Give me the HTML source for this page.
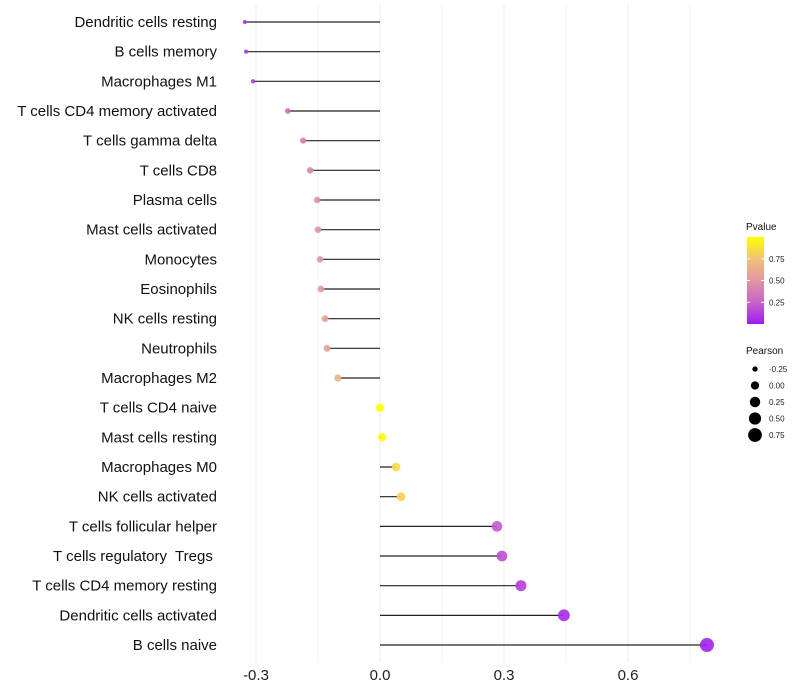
<!DOCTYPE html>
<html><head><meta charset="utf-8"><style>
body{margin:0;background:#fff;font-family:"Liberation Sans",sans-serif;}
svg{display:block}
</style></head><body>
<svg id="chart" width="800" height="700" xmlns="http://www.w3.org/2000/svg"></svg>
<script>
const categories=["Dendritic cells resting","B cells memory","Macrophages M1","T cells CD4 memory activated","T cells gamma delta","T cells CD8","Plasma cells","Mast cells activated","Monocytes","Eosinophils","NK cells resting","Neutrophils","Macrophages M2","T cells CD4 naive","Mast cells resting","Macrophages M0","NK cells activated","T cells follicular helper","T cells regulatory\u00a0 Tregs\u00a0","T cells CD4 memory resting","Dendritic cells activated","B cells naive"];
const pearson=[-0.327,-0.324,-0.307,-0.223,-0.186,-0.169,-0.152,-0.150,-0.145,-0.143,-0.133,-0.128,-0.102,0.0,0.005,0.039,0.051,0.283,0.295,0.341,0.445,0.791];
const pvalue=[0.08,0.09,0.12,0.3,0.4,0.45,0.5,0.5,0.53,0.54,0.57,0.58,0.68,1.0,0.98,0.86,0.83,0.22,0.19,0.13,0.05,0.02];
const xTicks=[-0.3,0.0,0.3,0.6];
const xTickLabels=["-0.3","0.0","0.3","0.6"];
const pTicks=[0.25,0.5,0.75];
const sizeTicks=[-0.25,0,0.25,0.5,0.75];

const NS="http://www.w3.org/2000/svg";
const svg=document.getElementById('chart');
function el(t,a,p){const e=document.createElementNS(NS,t);for(const k in a)e.setAttribute(k,a[k]);(p||svg).appendChild(e);return e;}
const x=v=>380+v*413.33;
const y=i=>22+i*29.667;
const r=v=>Math.sqrt(Math.max(1,4+40*(v+0.33)));
const stops=[[0,[160,26,240]],[0.25,[200,100,200]],[0.5,[224,150,160]],[0.75,[243,192,120]],[1,[255,255,0]]];
function col(p){for(let i=0;i<stops.length-1;i++){const a=stops[i],b=stops[i+1];if(p<=b[0]){const t=(p-a[0])/(b[0]-a[0]);const c=a[1].map((v,k)=>Math.round(v+(b[1][k]-v)*t));return `rgb(${c})`;}}return 'rgb(255,255,0)';}

const grid=el('g',{});


for(let v=-0.3;v<=0.76;v+=0.15){el('line',{x1:x(v),x2:x(v),y1:5,y2:662,stroke:'#ebebeb','stroke-width':Math.abs(Math.round(v/0.3)*0.3-v)<1e-6?1:0.6},grid);}

xTicks.forEach((v,i)=>{const t=el('text',{x:x(v),y:680,'text-anchor':'middle','font-size':15,fill:'#222'});t.textContent=xTickLabels[i];

});

categories.forEach((c,i)=>{
const g=el('g',{});


const lab=el('text',{x:217,y:y(i)+5,'text-anchor':'end','font-size':15,fill:'#111'},g);lab.textContent=c;


el('line',{x1:x(0),x2:x(pearson[i]),y1:y(i),y2:y(i),stroke:'#222','stroke-width':1.2},g);
const pt=el('circle',{cx:x(pearson[i]),cy:y(i),r:r(pearson[i]),fill:col(pvalue[i]),'fill-opacity':0.9},g);


});

const lg=el('g',{});


let t=el('text',{x:746,y:230,'font-size':10,fill:'#111'},lg);t.textContent='Pvalue';
const defs=el('defs',{});const grad=el('linearGradient',{id:'pg',x1:0,y1:1,x2:0,y2:0},defs);
stops.forEach(s=>el('stop',{offset:s[0],'stop-color':col(s[0])},grad));
el('rect',{x:747,y:237,width:17,height:87,fill:'url(#pg)'},lg);
pTicks.forEach(p=>{const yy=324-p*87;el('line',{x1:747,x2:750,y1:yy,y2:yy,stroke:'#fff'},lg);el('line',{x1:761,x2:764,y1:yy,y2:yy,stroke:'#fff'},lg);
const tt=el('text',{x:769,y:yy+3,'font-size':8,fill:'#222'},lg);tt.textContent=p.toFixed(2);});

const sg=el('g',{});


t=el('text',{x:746,y:354,'font-size':10,fill:'#111'},sg);t.textContent='Pearson';
sizeTicks.forEach((v,i)=>{const yy=369+i*16.5;el('circle',{cx:755,cy:yy,r:r(v),fill:'#000'},sg);
const tt=el('text',{x:769,y:yy+3,'font-size':8,fill:'#222'},sg);tt.textContent=v.toFixed(2);});
</script>
</body></html>
